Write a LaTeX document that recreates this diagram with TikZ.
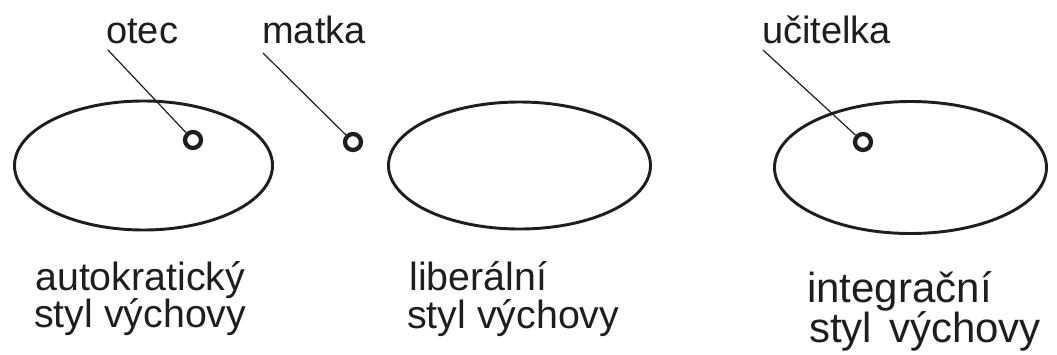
\documentclass[tikz,border=0pt]{standalone}
\usepackage{fontspec}
\setmainfont{Liberation Sans}
\usetikzlibrary{shapes.geometric}
\definecolor{ink}{HTML}{1E1E1E}
\tikzset{
  ell/.style={draw=ink, ellipse, line width=2.2pt, inner sep=0pt},
  dot/.style={draw=ink, circle, line width=3.2pt, minimum size=12pt, inner sep=0pt},
  leader/.style={draw=ink, line width=0.9pt},
  toplabel/.style={anchor=base west, inner sep=0pt, text=ink, font=\fontsize{28.5}{34}\selectfont},
  botlabel/.style={anchor=base west, inner sep=0pt, text=ink, font=\fontsize{29.5}{35}\selectfont},
  biglabel/.style={anchor=base west, inner sep=0pt, text=ink, font=\fontsize{31.5}{38}\selectfont}
}
\begin{document}
\begin{tikzpicture}[x=0.75pt,y=-0.75pt]
\useasboundingbox (0,0) rectangle (1057,354);
% ellipses
\node[ell, minimum width=193.5pt, minimum height=96.75pt] (e1) at (143.5,165.5) {};
\node[ell, minimum width=196.5pt, minimum height=95.25pt] (e2) at (519.5,165.5) {};
\node[ell, minimum width=204pt, minimum height=99pt] (e3) at (910.5,167.5) {};
% small circles
\node[dot] (c1) at (193,140) {};
\node[dot] (c2) at (353,142) {};
\node[dot] (c3) at (863,142) {};
% top labels
\node[toplabel] (otec) at (106,43) {otec};
\node[toplabel] (matka) at (262,43) {matka};
\node[toplabel] (ucit) at (762,43) {učitelka};
% leader lines
\coordinate (s1) at (108,50);
\coordinate (s2) at (263,53);
\coordinate (s3) at (763,50);
\draw[leader] (s1) -- (c1);
\draw[leader] (s2) -- (c2);
\draw[leader] (s3) -- (c3);
% bottom labels
\node[botlabel] (a1) at (35,290) {autokratický};
\node[botlabel] (a2) at (34,327) {styl výchovy};
\node[botlabel] (b1) at (409,290) {liberální};
\node[botlabel] (b2) at (407,328) {styl výchovy};
\node[biglabel] (i1) at (807,302) {integrační};
\node[biglabel] (i2) at (809,342) {styl\hspace{0.4em}výchovy};
\end{tikzpicture}
\end{document}
